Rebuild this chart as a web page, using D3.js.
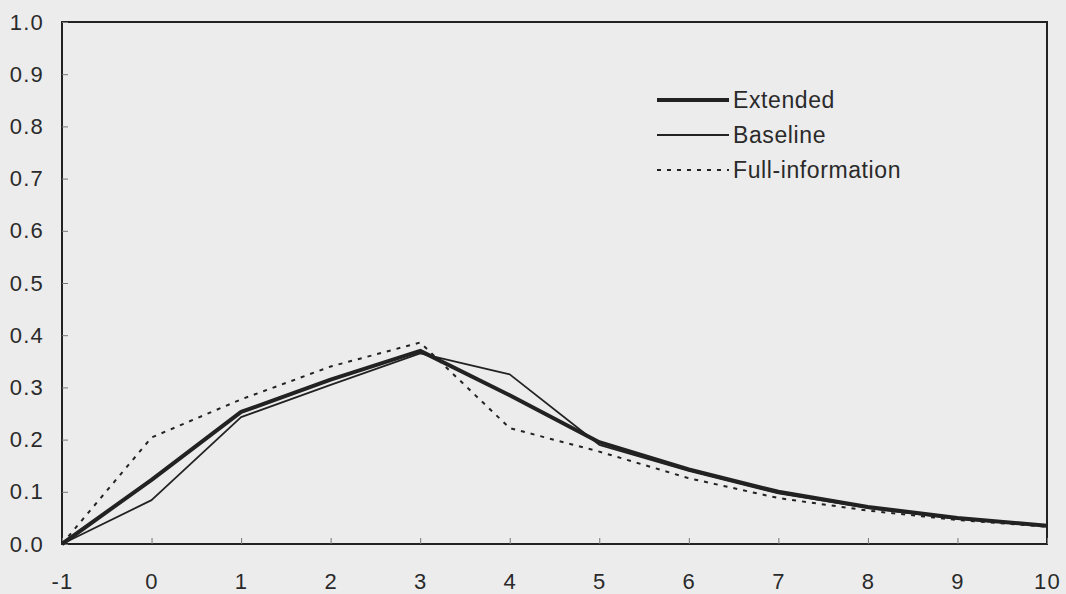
<!DOCTYPE html>
<html>
<head>
<meta charset="utf-8">
<script src="https://cdn.jsdelivr.net/npm/d3@7"></script>
<style>
  html, body { margin: 0; padding: 0; background: #ececec; }
  svg { display: block; }
  text { font-family: "Liberation Sans", Arial, sans-serif; fill: #2a2a2a; }
</style>
</head>
<body>
<svg id="chart" width="1066" height="594"></svg>
<script>
// Horizon (periods) and the three response series
const periods = [-1, 0, 1, 2, 3, 4, 5, 6, 7, 8, 9, 10];
const extended = [0, 0.123, 0.253, 0.315, 0.370, 0.285, 0.195, 0.143, 0.100, 0.071, 0.050, 0.035];
const baseline = [0, 0.084, 0.243, 0.305, 0.365, 0.325, 0.190, 0.140, 0.097, 0.069, 0.048, 0.035];
const fullInfo = [0, 0.204, 0.277, 0.340, 0.386, 0.222, 0.177, 0.126, 0.088, 0.064, 0.046, 0.033];
const yTicks = [0, 0.1, 0.2, 0.3, 0.4, 0.5, 0.6, 0.7, 0.8, 0.9, 1.0];

const series = [
  { name: "Extended", values: extended, width: 4, dash: null },
  { name: "Baseline", values: baseline, width: 1.8, dash: null },
  { name: "Full-information", values: fullInfo, width: 2, dash: "4,6" }
];

const svg = d3.select("#chart");
const m = { left: 62, right: 1047, top: 22, bottom: 544 };

const x = d3.scaleLinear().domain([-1, 10]).range([m.left, m.right]);
const y = d3.scaleLinear().domain([0, 1]).range([m.bottom, m.top]);

// Frame
svg.append("rect")
  .attr("x", m.left).attr("y", m.top)
  .attr("width", m.right - m.left).attr("height", m.bottom - m.top)
  .attr("fill", "none").attr("stroke", "#222").attr("stroke-width", 2);

// Y axis, ticks pointing inward
const yAxis = svg.append("g")
  .attr("transform", `translate(${m.left},0)`)
  .call(d3.axisLeft(y).tickValues(yTicks).tickSizeInner(-6).tickSizeOuter(0)
    .tickPadding(18).tickFormat(d3.format(".1f")));
yAxis.select(".domain").remove();
yAxis.selectAll("line").attr("stroke", "#777").attr("stroke-width", 1);
yAxis.selectAll("text").attr("font-size", 22).attr("letter-spacing", 1.2)
  .style("fill", "#2a2a2a");

// X axis, ticks pointing inward; plain hyphen for negatives
const xAxis = svg.append("g")
  .attr("transform", `translate(0,${m.bottom})`)
  .call(d3.axisBottom(x).tickValues(periods).tickSizeInner(-6).tickSizeOuter(0)
    .tickPadding(29).tickFormat(d => String(d)));
xAxis.select(".domain").remove();
xAxis.selectAll("line").attr("stroke", "#777").attr("stroke-width", 1);
xAxis.selectAll("text").attr("font-size", 22).attr("letter-spacing", 1.2)
  .style("fill", "#2a2a2a");

// Series lines
const line = d3.line()
  .x((d, i) => x(periods[i]))
  .y(d => y(d));

svg.selectAll("path.series")
  .data(series)
  .join("path")
  .attr("class", "series")
  .attr("d", s => line(s.values))
  .attr("fill", "none")
  .attr("stroke", "#222")
  .attr("stroke-width", s => s.width)
  .attr("stroke-dasharray", s => s.dash)
  .attr("stroke-linejoin", "round");

// Legend
const legend = svg.append("g").attr("transform", "translate(657,100)");
const rows = legend.selectAll("g")
  .data(series)
  .join("g")
  .attr("transform", (d, i) => `translate(0,${i * 35})`);
rows.append("line")
  .attr("x1", 0).attr("x2", 72).attr("y1", 0).attr("y2", 0)
  .attr("stroke", "#222")
  .attr("stroke-width", d => d.width)
  .attr("stroke-dasharray", d => d.dash);
rows.append("text")
  .attr("x", 76).attr("y", 0).attr("dy", "0.35em")
  .attr("font-size", 23)
  .attr("letter-spacing", 0.6)
  .text(d => d.name);
</script>
</body>
</html>
